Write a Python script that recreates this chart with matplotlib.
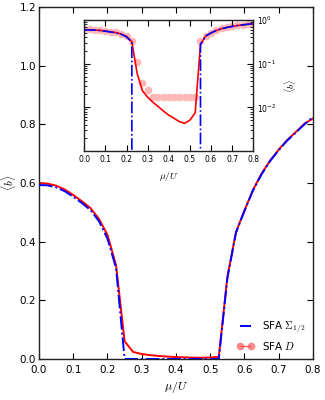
import numpy as np
import matplotlib
matplotlib.use("Agg")
import matplotlib.pyplot as plt
from matplotlib.lines import Line2D
from matplotlib.ticker import FixedLocator, LogLocator, NullFormatter

plt.rcParams['mathtext.fontset'] = 'cm'
plt.rcParams['font.family'] = ['DejaVu Sans']

mu = [0.0, 0.025, 0.05, 0.075, 0.1, 0.125, 0.15, 0.175, 0.2, 0.225, 0.25,
      0.275, 0.3, 0.325, 0.35, 0.375, 0.4, 0.425, 0.45, 0.475, 0.5, 0.525,
      0.55, 0.575, 0.6, 0.625, 0.65, 0.675, 0.7, 0.725, 0.75, 0.775, 0.8]

sfa_sigma = [0.593, 0.592, 0.585, 0.572, 0.553, 0.532, 0.508, 0.47, 0.41, 0.31, 0.0,
             0.0, 0.0, 0.0, 0.0, 0.0, 0.0, 0.0, 0.0, 0.0, 0.0, 0.0,
             0.275, 0.43, 0.505, 0.575, 0.63, 0.675, 0.712, 0.745, 0.772, 0.8, 0.825]

sfa_d = [0.600, 0.598, 0.591, 0.578, 0.559, 0.538, 0.515, 0.478, 0.423, 0.32, 0.06,
         0.024, 0.017, 0.013, 0.0104, 0.0082, 0.0066, 0.0056, 0.0047, 0.0043, 0.0051, 0.0075,
         0.28, 0.432, 0.507, 0.577, 0.632, 0.677, 0.714, 0.747, 0.774, 0.802, 0.82]

sfa_d_points = [0.61, 0.61, 0.60, 0.59, 0.57, 0.545, 0.52, 0.48, 0.43, 0.33, 0.107,
                0.037, 0.025, 0.0175, 0.0175, 0.0175, 0.0175, 0.0175, 0.0175, 0.0175, 0.0175, 0.0175,
                0.33, 0.44, 0.515, 0.585, 0.64, 0.685, 0.72, 0.755, 0.78, 0.81, 0.83]

xticks = [0.0, 0.1, 0.2, 0.3, 0.4, 0.5, 0.6, 0.7, 0.8]
yticks_main = [0.0, 0.2, 0.4, 0.6, 0.8, 1.0, 1.2]
yticks_inset = [1e-2, 1e-1, 1e0]

DASHDOT = (0, (7, 1.5, 1, 1.5))

fig = plt.figure(figsize=(3.25, 4.0), dpi=100)
ax = fig.add_axes([0.12, 0.1025, 0.843, 0.88])

ax.plot(mu, sfa_d, color='red', lw=1.4, zorder=2)
ax.plot(mu, sfa_sigma, color='blue', lw=1.4, ls=DASHDOT, zorder=3)
ax.set_xlim(0, 0.8)
ax.set_ylim(0, 1.2)
ax.set_xticks(xticks)
ax.set_yticks(yticks_main)
ax.set_xticklabels([f"{v:.1f}" for v in xticks])
ax.set_yticklabels([f"{v:.1f}" for v in yticks_main])
ax.tick_params(direction='in', top=True, right=True, length=4, width=0.8,
               labelsize=7.5)
ax.tick_params(axis='y', pad=2)
ax.tick_params(axis='x', pad=4)
for s in ax.spines.values():
    s.set_linewidth(1.0)
    s.set_color('#222222')
ax.set_xlabel(r'$\mu/U$', fontsize=8.5, labelpad=3)
ax.set_ylabel(r'$\langle b\rangle$', fontsize=8)
ax.yaxis.set_label_coords(-0.075, 0.5)

h1 = Line2D([], [], color='blue', ls=DASHDOT, lw=1.4)
h2 = Line2D([], [], color='red', lw=1.0, alpha=0.6, marker='o', markersize=4.5,
            markerfacecolor='#ff5050', markeredgecolor='#ff5050')
leg = ax.legend([h1, h2], [r'SFA $\Sigma_{1/2}$', r'SFA $D$'], loc='lower right',
                frameon=False, fontsize=7.5, handlelength=1.6, numpoints=2,
                borderaxespad=0.3, labelspacing=0.45, bbox_to_anchor=(1.0, 0.0))

ins = fig.add_axes([0.2594, 0.6225, 0.52, 0.3275])
ins.set_yscale('log')
ins.plot(mu, sfa_d_points, ls='none', marker='o', markersize=4.5,
         color='#ffb8b8', markeredgecolor='#ffb8b8', zorder=1)
ins.plot(mu, sfa_d, color='red', lw=1.2, zorder=2)
ins.plot(mu, sfa_sigma, color='blue', lw=1.2, ls=DASHDOT, zorder=3)
ins.set_xlim(0, 0.8)
ins.set_ylim(1e-3, 1)
ins.set_xticks(xticks)
ins.set_xticklabels([f"{v:.1f}" for v in xticks])
ins.yaxis.set_major_locator(FixedLocator(yticks_inset))
ins.yaxis.set_minor_locator(LogLocator(base=10, subs=np.arange(2, 10), numticks=12))
ins.yaxis.set_minor_formatter(NullFormatter())
ins.yaxis.tick_right()
ins.yaxis.set_label_position('right')
ins.tick_params(which='both', direction='in', top=True, left=True, right=True,
                labelsize=5.5, pad=3)
ins.tick_params(which='major', length=4, width=0.8)
ins.tick_params(which='minor', length=2, width=0.6)
for s in ins.spines.values():
    s.set_linewidth(1.0)
    s.set_color('#222222')
ins.set_xlabel(r'$\mu/U$', fontsize=7, labelpad=4)
ins.set_ylabel(r'$\langle b\rangle$', fontsize=7, rotation=90, labelpad=4)

fig.savefig('out.png', dpi=100, facecolor='white')
